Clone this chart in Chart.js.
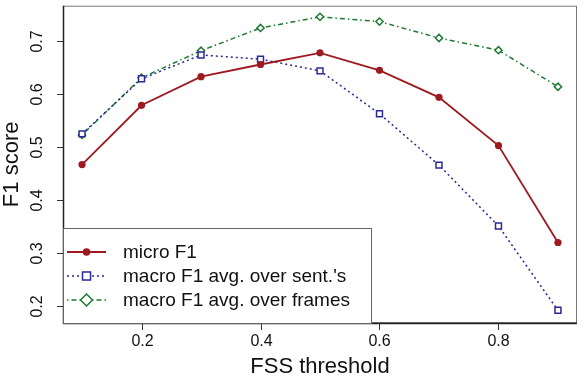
<!DOCTYPE html>
<html><head><meta charset="utf-8">
<script src="https://cdn.jsdelivr.net/npm/chart.js@4"></script>
<style>html,body{margin:0;padding:0;background:#fff}#wrap{width:584px;height:382px}</style>
</head><body><div id="wrap"><canvas id="c" width="584" height="382"></canvas></div>
<script>
const thresholds = [0.1,0.2,0.3,0.4,0.5,0.6,0.7,0.8,0.9];
const microF1 = [0.467,0.579,0.633,0.656,0.678,0.645,0.594,0.503,0.320];
const macroSent = [0.525,0.629,0.674,0.666,0.644,0.563,0.466,0.351,0.192];
const macroFrames = [0.523,0.631,0.682,0.725,0.746,0.737,0.706,0.683,0.614];
const xTicks = [0.2,0.4,0.6,0.8];
const yTicks = [0.2,0.3,0.4,0.5,0.6,0.7];
const seriesNames = ["micro F1","macro F1 avg. over sent.'s","macro F1 avg. over frames"];
const xTitle = "FSS threshold";
const yTitle = "F1 score";

const RED="#9e1a1f", BLUE="#2a2a96", GREEN="#1d7a30";
const FONT='"Liberation Sans", Arial, sans-serif';

function pts(arr){return thresholds.map((x,i)=>({x:x,y:arr[i]}));}

const deco = {
  id:'deco',
  afterDraw(chart){
    const ctx=chart.ctx, a=chart.chartArea, xs=chart.scales.x, ys=chart.scales.y;
    ctx.save();
    // box
    ctx.strokeStyle="#777"; ctx.lineWidth=1;
    ctx.strokeRect(a.left+0.5,a.top+0.5,a.right-a.left-1,a.bottom-a.top-1);
    ctx.strokeStyle="#222"; ctx.lineWidth=1.5;
    ctx.beginPath(); ctx.moveTo(a.left+0.5,a.top); ctx.lineTo(a.left+0.5,a.bottom+0.5); ctx.lineTo(a.right,a.bottom+0.5); ctx.stroke();
    // ticks
    ctx.lineWidth=1; ctx.strokeStyle="#333";
    ctx.fillStyle="#111"; ctx.font="16px "+FONT;
    ctx.textAlign="center"; ctx.textBaseline="middle";
    xTicks.forEach(v=>{
      const px=Math.round(xs.getPixelForValue(v))+0.5;
      ctx.beginPath(); ctx.moveTo(px,a.bottom); ctx.lineTo(px,a.bottom+7); ctx.stroke();
      ctx.fillText(v.toFixed(1),px,a.bottom+19);
    });
    yTicks.forEach(v=>{
      const py=Math.round(ys.getPixelForValue(v))+0.5;
      ctx.beginPath(); ctx.moveTo(a.left-6,py); ctx.lineTo(a.left,py); ctx.stroke();
      ctx.save(); ctx.translate(a.left-25,py); ctx.rotate(-Math.PI/2);
      ctx.fillText(v.toFixed(1),0,0); ctx.restore();
    });
    // titles
    ctx.font="22px "+FONT;
    ctx.fillText(xTitle,(a.left+a.right)/2,367);
    ctx.save(); ctx.translate(12,(a.top+a.bottom)/2); ctx.rotate(-Math.PI/2);
    ctx.fillText(yTitle,0,0); ctx.restore();
    // legend
    const lx=a.left, ly=228, lw=308, lh=a.bottom-ly;
    ctx.fillStyle="#fff"; ctx.fillRect(lx+1,ly+1,lw-1,lh-1);
    ctx.strokeStyle="#666"; ctx.lineWidth=1;
    ctx.strokeRect(lx+0.5,ly+0.5,lw,lh);
    const rows=[252,276,300];
    const styles=[
      {c:RED,dash:[],w:2,m:'circle'},
      {c:BLUE,dash:[2,3],w:1.3,m:'rect'},
      {c:GREEN,dash:[1.5,3,5,3],w:1.3,m:'diamond'}
    ];
    styles.forEach((s,i)=>{
      const y=rows[i];
      ctx.strokeStyle=s.c; ctx.lineWidth=s.w; ctx.setLineDash(s.dash);
      ctx.beginPath(); ctx.moveTo(67,y); ctx.lineTo(106,y); ctx.stroke();
      ctx.setLineDash([]);
      const cx=86.5;
      if(s.m==='circle'){ctx.fillStyle=s.c;ctx.beginPath();ctx.arc(cx,y,3.8,0,Math.PI*2);ctx.fill();}
      else if(s.m==='rect'){ctx.fillStyle="#fff";ctx.fillRect(cx-4.5,y-4.5,9,9);ctx.lineWidth=1.5;ctx.strokeRect(cx-4,y-4,8,8);}
      else {ctx.fillStyle="#fff";ctx.lineWidth=1.5;ctx.beginPath();ctx.moveTo(cx,y-6);ctx.lineTo(cx+6,y);ctx.lineTo(cx,y+6);ctx.lineTo(cx-6,y);ctx.closePath();ctx.fill();ctx.stroke();}
      ctx.fillStyle="#111"; ctx.font="19px "+FONT; ctx.textAlign="left";
      ctx.fillText(seriesNames[i],123,y+1);
    });
    ctx.restore();
  }
};

new Chart(document.getElementById('c'),{
  type:'line',
  data:{datasets:[
    {label:seriesNames[0],data:pts(microF1),borderColor:RED,backgroundColor:RED,borderWidth:1.8,pointStyle:'circle',pointRadius:3.6,pointBorderWidth:0,pointBackgroundColor:RED,tension:0},
    {label:seriesNames[1],data:pts(macroSent),borderColor:BLUE,backgroundColor:'#fff',borderWidth:1.5,borderDash:[2,3],pointStyle:'rect',pointRadius:4.2,pointBorderWidth:1.5,pointBackgroundColor:'#fff',tension:0},
    {label:seriesNames[2],data:pts(macroFrames),borderColor:GREEN,backgroundColor:'#fff',borderWidth:1.5,borderDash:[1.5,3,5,3],pointStyle:'rectRot',pointRadius:3.6,pointBorderWidth:1.5,pointBackgroundColor:'#fff',tension:0}
  ]},
  options:{
    responsive:false,animation:false,
    layout:{padding:{left:63,top:2,right:7,bottom:59}},
    plugins:{legend:{display:false},tooltip:{enabled:false}},
    scales:{
      x:{type:'linear',min:0.068,max:0.932,ticks:{display:false},grid:{display:false,drawTicks:false},border:{display:false}},
      y:{type:'linear',min:0.168,max:0.767,ticks:{display:false},grid:{display:false,drawTicks:false},border:{display:false}}
    }
  },
  plugins:[deco]
});
</script></body></html>
